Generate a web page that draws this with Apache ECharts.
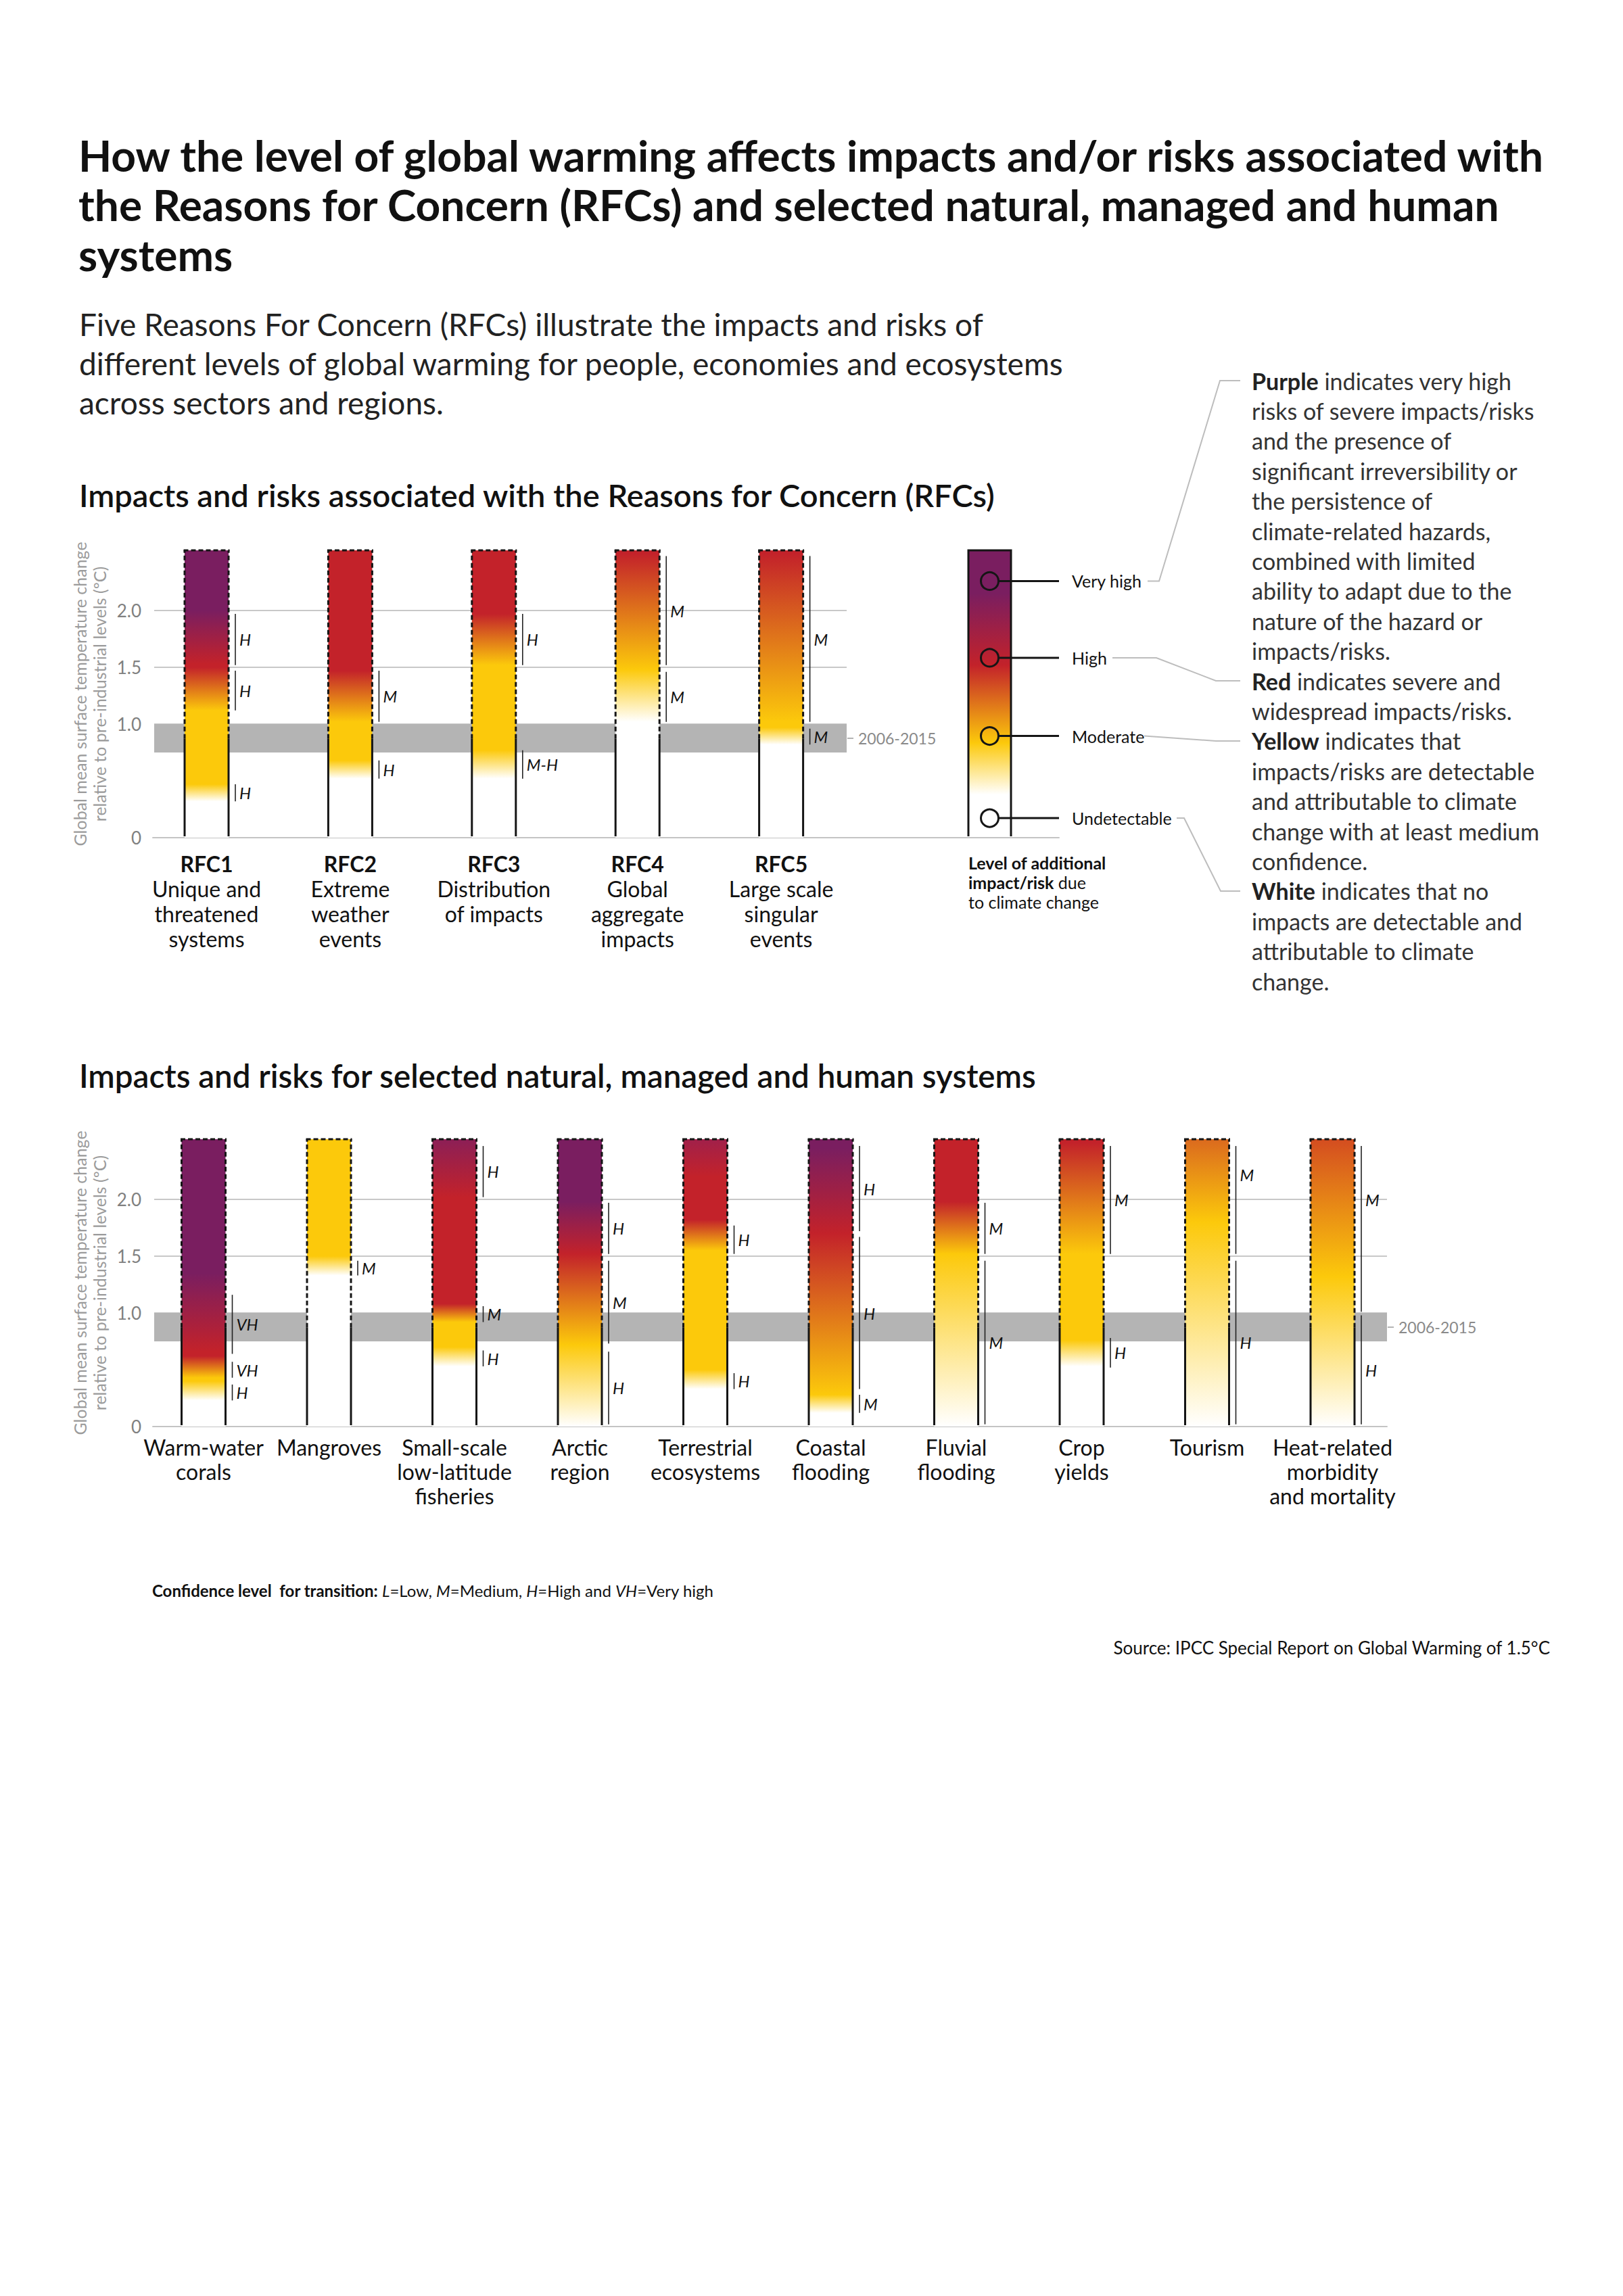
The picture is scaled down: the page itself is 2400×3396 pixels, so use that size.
<!DOCTYPE html>
<html>
<head>
<meta charset="utf-8">
<title>Reasons for Concern</title>
<script src="https://cdn.jsdelivr.net/npm/echarts@6.0.0/dist/echarts.min.js"></script>
<style>
html,body{margin:0;padding:0;background:#ffffff;}
#chart{width:2400px;height:3396px;}
</style>
</head>
<body>
<div id="chart"></div>
<script>
// ================= DATA =================
const titleLines = [
  'How the level of global warming affects impacts and/or risks associated with',
  'the Reasons for Concern (RFCs) and selected natural, managed and human',
  'systems'
];
const subtitleLines = [
  'Five Reasons For Concern (RFCs) illustrate the impacts and risks of',
  'different levels of global warming for people, economies and ecosystems',
  'across sectors and regions.'
];
const section1Title = 'Impacts and risks associated with the Reasons for Concern (RFCs)';
const section2Title = 'Impacts and risks for selected natural, managed and human systems';
const yAxisName = 'Global mean surface temperature change\nrelative to pre-industrial levels (\u00baC)';
const yTickLabels = [0, 1.0, 1.5, 2.0];
const gridValues = [1.0, 1.5, 2.0];
const recentBand = [0.75, 1.0];
const recentLabel = '2006-2015';
const presentLevel = 0.87;     // bar edges dashed above this level
const barTop = 2.53;

// Reasons for Concern
const rfcNames = ['RFC1', 'RFC2', 'RFC3', 'RFC4', 'RFC5'];
const rfcDesc = [
  'Unique and\nthreatened\nsystems',
  'Extreme\nweather\nevents',
  'Distribution\nof impacts',
  'Global\naggregate\nimpacts',
  'Large scale\nsingular\nevents'
];
// colour stops: [temperature, level]  W=undetectable Y=moderate R=high P=very high
const rfcStops = [
  [[0.32, 'W'], [0.47, 'Y'], [1.12, 'Y'], [1.50, 'R'], [1.53, 'R'], [2.00, 'P']],
  [[0.52, 'W'], [0.68, 'Y'], [1.02, 'Y'], [1.47, 'R']],
  [[0.52, 'W'], [0.77, 'Y'], [1.52, 'Y'], [1.97, 'R']],
  [[1.02, 'W'], [1.48, 'Y'], [2.50, 'R']],
  [[0.82, 'W'], [0.97, 'Y'], [1.02, 'Y'], [2.50, 'R']]
];
// confidence of transitions: [from, to, level, (label position)]
const rfcConf = [
  [[1.52, 1.97, 'H'], [1.12, 1.47, 'H'], [0.32, 0.47, 'H']],
  [[1.02, 1.47, 'M'], [0.52, 0.68, 'H']],
  [[1.52, 1.97, 'H'], [0.52, 0.77, 'M-H']],
  [[1.52, 2.48, 'M'], [1.02, 1.46, 'M']],
  [[1.02, 2.48, 'M'], [0.82, 0.96, 'M']]
];

// Selected natural, managed and human systems
const sysNames = [
  'Warm-water\ncorals', 'Mangroves', 'Small-scale\nlow-latitude\nfisheries', 'Arctic\nregion',
  'Terrestrial\necosystems', 'Coastal\nflooding', 'Fluvial\nflooding', 'Crop\nyields',
  'Tourism', 'Heat-related\nmorbidity\nand mortality'
];
const sysStops = [
  [[0.23, 'W'], [0.40, 'Y'], [0.43, 'Y'], [0.62, 'R'], [0.66, 'R'], [1.35, 'P']],
  [[1.33, 'W'], [1.50, 'Y']],
  [[0.53, 'W'], [0.70, 'Y'], [0.92, 'Y'], [1.08, 'R'], [2.02, 'R'], [2.53, '#8c1f56']],
  [[0.00, 'W'], [0.72, 'Y'], [1.52, 'R'], [1.98, 'P']],
  [[0.33, 'W'], [0.50, 'Y'], [1.55, 'Y'], [1.82, 'R'], [2.20, 'R'], [2.53, '#a1204a']],
  [[0.12, 'W'], [0.28, 'Y'], [1.70, 'R'], [2.45, 'P']],
  [[0.00, 'W'], [1.52, 'Y'], [1.98, 'R']],
  [[0.53, 'W'], [0.76, 'Y'], [1.52, 'Y'], [2.50, 'R']],
  [[0.00, 'W'], [1.80, 'Y'], [2.53, '#db6a1e']],
  [[0.00, 'W'], [1.32, 'Y'], [2.53, '#d44d20']]
];
const sysConf = [
  [[0.64, 1.16, 'VH'], [0.43, 0.57, 'VH'], [0.23, 0.37, 'H']],
  [[1.33, 1.46, 'M']],
  [[2.02, 2.47, 'H'], [0.92, 1.06, 'M'], [0.53, 0.67, 'H']],
  [[1.52, 1.97, 'H'], [0.73, 1.46, 'M'], [0.02, 0.66, 'H']],
  [[1.52, 1.77, 'H'], [0.33, 0.47, 'H']],
  [[1.72, 2.47, 'H'], [0.33, 1.67, 'H'], [0.12, 0.28, 'M']],
  [[1.52, 1.97, 'M'], [0.02, 1.46, 'M']],
  [[1.52, 2.47, 'M'], [0.52, 0.78, 'H']],
  [[1.52, 2.47, 'M', 2.22], [0.02, 1.46, 'H']],
  [[1.01, 2.47, 'M', 2.0], [0.02, 0.98, 'H']]
];

// Legend
const legendLevels = ['Very high', 'High', 'Moderate', 'Undetectable'];
const legendLevelPos = [0.107, 0.374, 0.646, 0.932];
const legendStops = [[0, 'P'], [0.15, 'P'], [0.40, 'R'], [0.67, 'Y'], [0.85, 'W'], [1, 'W']];
const legendCaption = '{b|Level of additional}\n{b|impact/risk}{n|\u00a0due}\n{n|to climate change}';
const descLines = [
  ['Purple', '\u00a0indicates very high'],
  ['', 'risks of severe impacts/risks'],
  ['', 'and the presence of'],
  ['', 'significant irreversibility or'],
  ['', 'the persistence of'],
  ['', 'climate-related hazards,'],
  ['', 'combined with limited'],
  ['', 'ability to adapt due to the'],
  ['', 'nature of the hazard or'],
  ['', 'impacts/risks.'],
  ['Red', '\u00a0indicates severe and'],
  ['', 'widespread impacts/risks.'],
  ['Yellow', '\u00a0indicates that'],
  ['', 'impacts/risks are detectable'],
  ['', 'and attributable to climate'],
  ['', 'change with at least medium'],
  ['', 'confidence.'],
  ['White', '\u00a0indicates that no'],
  ['', 'impacts are detectable and'],
  ['', 'attributable to climate'],
  ['', 'change.']
];
const confidenceNote = '{b|Confidence level\u00a0\u00a0for transition:\u00a0}{i|L}{n|=Low,\u00a0}{i|M}{n|=Medium,\u00a0}{i|H}{n|=High and\u00a0}{i|VH}{n|=Very high}';
const sourceNote = 'Source: IPCC Special Report on Global Warming of 1.5\u00b0C';

// ================= STYLE / LAYOUT =================
const FONT = 'Lato, "Noto Sans", "DejaVu Sans", sans-serif';
const PALETTE = { W: '#ffffff', Y: '#fcc90b', R: '#c3222a', P: '#7a1e60' };
const BAR_W = 65;
const CONF_OFF = 10;
const L1 = { left: 226, right: 1566, top: 814, bottom: 1239, c0: 305.5, step: 212.4, bandStart: 228, bandEnd: 1252 };
const L2 = { left: 226, right: 2051, top: 1685, bottom: 2110, c0: 301, step: 185.5, bandStart: 228, bandEnd: 2051 };

function xr(L) {
  return {
    min: (L.left - L.c0) / L.step, max: (L.right - L.c0) / L.step,
    bandStart: (L.bandStart - L.c0) / L.step, bandEnd: (L.bandEnd - L.c0) / L.step
  };
}
function hex2rgb(h) {
  h = h.replace('#', '');
  return [parseInt(h.substr(0, 2), 16), parseInt(h.substr(2, 2), 16), parseInt(h.substr(4, 2), 16)];
}
function resolve(c) { return PALETTE[c] || c; }
function mix(a, b, t) {
  const A = hex2rgb(a), B = hex2rgb(b);
  return 'rgb(' + A.map((v, k) => Math.round(v + (B[k] - v) * t)).join(',') + ')';
}
function colorAt(stops, v) {
  if (v <= stops[0][0]) return resolve(stops[0][1]);
  for (let k = 1; k < stops.length; k++) {
    if (v <= stops[k][0]) {
      const s0 = stops[k - 1], s1 = stops[k];
      const t = s1[0] === s0[0] ? 1 : (v - s0[0]) / (s1[0] - s0[0]);
      return mix(resolve(s0[1]), resolve(s1[1]), t);
    }
  }
  return resolve(stops[stops.length - 1][1]);
}
function barGradient(stops, top) {
  const pts = [[top, colorAt(stops, top)]];
  for (let k = stops.length - 1; k >= 0; k--) {
    const v = stops[k][0];
    if (v < top && v > 0) pts.push([v, resolve(stops[k][1])]);
  }
  pts.push([0, colorAt(stops, 0)]);
  return new echarts.graphic.LinearGradient(0, 0, 0, 1, pts.map(p => ({ offset: (top - p[0]) / top, color: p[1] })));
}

function xAx(gi, L) {
  const r = xr(L);
  return {
    gridIndex: gi, type: 'value', min: r.min, max: r.max,
    axisLine: { show: true, onZero: false, lineStyle: { color: '#c4c4c4', width: 2 } },
    axisTick: { show: false }, axisLabel: { show: false }, splitLine: { show: false }
  };
}
function yAx(gi) {
  return {
    gridIndex: gi, type: 'value', min: 0, max: barTop, interval: 0.5,
    axisLine: { show: false }, axisTick: { show: false }, splitLine: { show: false },
    axisLabel: {
      margin: 17, fontSize: 26, color: '#808080', fontFamily: FONT,
      formatter: function (v) {
        const t = yTickLabels.find(k => Math.abs(k - v) < 1e-6);
        return t === undefined ? '' : (t === 0 ? '0' : t.toFixed(1));
      }
    },
    name: yAxisName, nameLocation: 'middle', nameRotate: 90, nameGap: 51,
    nameTextStyle: { fontSize: 25, color: '#9b9b9b', lineHeight: 29, fontFamily: FONT }
  };
}
function gridLineSeries(gi, L) {
  const r = xr(L);
  return {
    type: 'custom', xAxisIndex: gi, yAxisIndex: gi, z: 1, silent: true, clip: false,
    data: gridValues.map(v => [r.bandStart, v, r.bandEnd]),
    renderItem: function (params, api) {
      const a = api.coord([api.value(0), api.value(1)]);
      const b = api.coord([api.value(2), api.value(1)]);
      return { type: 'line', shape: { x1: a[0], y1: a[1], x2: b[0], y2: b[1] }, style: { stroke: '#c8c8c8', lineWidth: 2 } };
    }
  };
}
function bandSeries(gi, L) {
  const r = xr(L);
  return {
    type: 'custom', xAxisIndex: gi, yAxisIndex: gi, z: 2, silent: true, clip: false,
    data: [[r.bandStart, recentBand[0], r.bandEnd, recentBand[1]]],
    renderItem: function (params, api) {
      const a = api.coord([api.value(0), api.value(3)]);
      const b = api.coord([api.value(2), api.value(1)]);
      const mid = (a[1] + b[1]) / 2;
      return {
        type: 'group', children: [
          { type: 'rect', shape: { x: a[0], y: a[1], width: b[0] - a[0], height: b[1] - a[1] }, style: { fill: '#b4b4b4' } },
          { type: 'line', shape: { x1: b[0] + 1, y1: mid, x2: b[0] + 10, y2: mid }, style: { stroke: '#b4b4b4', lineWidth: 2 } },
          { type: 'text', x: b[0] + 17, y: mid, style: { text: recentLabel, fontSize: 23, fontFamily: FONT, fill: '#8a8a8a', align: 'left', verticalAlign: 'middle' } }
        ]
      };
    }
  };
}
function barSeries(gi, labels, stopsArr, confArr, labelStyle) {
  return {
    type: 'custom', xAxisIndex: gi, yAxisIndex: gi, z: 5, silent: true, clip: false,
    data: labels.map((n, i) => [i, barTop]),
    renderItem: function (params, api) {
      const idx = params.dataIndex;
      const i = api.value(0), top = api.value(1);
      const pT = api.coord([i, top]);
      const p0 = api.coord([i, 0]);
      const pP = api.coord([i, presentLevel]);
      const x0 = pT[0] - BAR_W / 2, x1 = pT[0] + BAR_W / 2;
      const ch = [];
      ch.push({ type: 'rect', shape: { x: x0, y: pT[1], width: BAR_W, height: p0[1] - pT[1] }, style: { fill: barGradient(stopsArr[idx], top) } });
      [x0, x1].forEach(function (x) {
        ch.push({ type: 'line', shape: { x1: x, y1: p0[1] - 2, x2: x, y2: pP[1] }, style: { stroke: '#151515', lineWidth: 3 } });
        ch.push({ type: 'line', shape: { x1: x, y1: pP[1], x2: x, y2: pT[1] }, style: { stroke: '#151515', lineWidth: 3, lineDash: [7, 4] } });
      });
      ch.push({ type: 'line', shape: { x1: x0 - 1.5, y1: pT[1], x2: x1 + 1.5, y2: pT[1] }, style: { stroke: '#151515', lineWidth: 3, lineDash: [7, 4] } });
      confArr[idx].forEach(function (c) {
        const a = api.coord([i, c[0]]), b = api.coord([i, c[1]]);
        const lx = x1 + CONF_OFF;
        ch.push({ type: 'line', shape: { x1: lx, y1: a[1], x2: lx, y2: b[1] }, style: { stroke: '#222', lineWidth: 1.6 } });
        const m = api.coord([i, c[3] != null ? c[3] : (c[0] + c[1]) / 2]);
        ch.push({ type: 'text', x: lx + 6, y: m[1], style: { text: c[2], fontSize: 24, fontStyle: 'italic', fontFamily: FONT, fill: '#111', align: 'left', verticalAlign: 'middle' } });
      });
      ch.push({
        type: 'text', x: pT[0], y: p0[1] + labelStyle.gap,
        style: { text: labelStyle.text(idx), rich: labelStyle.rich, align: 'center', verticalAlign: 'top', fontFamily: FONT }
      });
      return { type: 'group', children: ch };
    }
  };
}

const richTop = {
  b: { fontSize: 32, fontWeight: 'bold', fontFamily: FONT, fill: '#111', lineHeight: 37 },
  n: { fontSize: 32, fontFamily: FONT, fill: '#111', lineHeight: 37 }
};
const richBottom = {
  n: { fontSize: 32, fontFamily: FONT, fill: '#111', lineHeight: 36 }
};

// ================= GRAPHIC (titles, legend, notes) =================
const graphics = [];
titleLines.forEach(function (t, k) {
  graphics.push({ type: 'text', x: 116, y: 229 + k * 73.5, style: { text: t, fontSize: 64, fontWeight: 'bold', fontFamily: FONT, fill: '#111', verticalAlign: 'middle' } });
});
subtitleLines.forEach(function (t, k) {
  graphics.push({ type: 'text', x: 117, y: 479 + k * 58, style: { text: t, fontSize: 46, fontFamily: FONT, fill: '#222', verticalAlign: 'middle' } });
});
graphics.push({ type: 'text', x: 117, y: 732, style: { text: section1Title, fontSize: 47, fontWeight: 600, fontFamily: FONT, fill: '#111', verticalAlign: 'middle' } });
graphics.push({ type: 'text', x: 117, y: 1590, style: { text: section2Title, fontSize: 47.5, fontWeight: 600, fontFamily: FONT, fill: '#111', verticalAlign: 'middle' } });

// legend bar
const LG = { x: 1432, w: 63, top: L1.top, bottom: L1.bottom };
const legendGrad = new echarts.graphic.LinearGradient(0, 0, 0, 1, legendStops.map(s => ({ offset: s[0], color: resolve(s[1]) })));
graphics.push({ type: 'rect', shape: { x: LG.x, y: LG.top, width: LG.w, height: LG.bottom - LG.top }, style: { fill: legendGrad } });
graphics.push({ type: 'polyline', shape: { points: [[LG.x, LG.bottom - 2], [LG.x, LG.top], [LG.x + LG.w, LG.top], [LG.x + LG.w, LG.bottom - 2]] }, style: { stroke: '#151515', lineWidth: 3, fill: null } });
const LGcx = LG.x + LG.w / 2;
legendLevels.forEach(function (name, k) {
  const cy = LG.top + legendLevelPos[k] * (LG.bottom - LG.top);
  graphics.push({ type: 'line', shape: { x1: LGcx + 13, y1: cy, x2: 1566, y2: cy }, style: { stroke: '#151515', lineWidth: 3 } });
  graphics.push({ type: 'circle', shape: { cx: LGcx, cy: cy, r: 13 }, style: { fill: null, stroke: '#151515', lineWidth: 3 } });
  graphics.push({ type: 'text', x: 1585, y: cy, style: { text: name, fontSize: 25, fontFamily: FONT, fill: '#111', verticalAlign: 'middle' } });
});
graphics.push({
  type: 'text', x: 1432, y: 1261,
  style: {
    text: legendCaption, verticalAlign: 'top', fontFamily: FONT,
    rich: {
      b: { fontSize: 25, fontWeight: 'bold', fontFamily: FONT, fill: '#111', lineHeight: 29 },
      n: { fontSize: 25, fontFamily: FONT, fill: '#111', lineHeight: 29 }
    }
  }
});
// leader lines to the description
const leaders = [
  [[1697, 859.5], [1714, 859.5], [1804, 563], [1834, 563]],
  [[1645, 973], [1710, 973], [1798, 1007], [1834, 1007]],
  [[1692, 1088.5], [1798, 1096], [1834, 1096]],
  [[1740, 1210], [1751, 1210], [1805, 1318], [1834, 1318]]
];
leaders.forEach(function (pts) {
  graphics.push({ type: 'polyline', shape: { points: pts }, style: { stroke: '#bdbdbd', lineWidth: 2, fill: null } });
});
descLines.forEach(function (ln, k) {
  const txt = (ln[0] ? '{b|' + ln[0] + '}' : '') + '{n|' + ln[1] + '}';
  graphics.push({
    type: 'text', x: 1851, y: 563 + k * 44.4,
    style: {
      text: txt, verticalAlign: 'middle', fontFamily: FONT,
      rich: {
        b: { fontSize: 34, fontWeight: 'bold', fontFamily: FONT, fill: '#222' },
        n: { fontSize: 34, fontFamily: FONT, fill: '#333' }
      }
    }
  });
});
graphics.push({
  type: 'text', x: 225, y: 2352,
  style: {
    text: confidenceNote, verticalAlign: 'middle', fontFamily: FONT,
    rich: {
      b: { fontSize: 24, fontWeight: 'bold', fontFamily: FONT, fill: '#111' },
      i: { fontSize: 24, fontStyle: 'italic', fontFamily: FONT, fill: '#111' },
      n: { fontSize: 24, fontFamily: FONT, fill: '#111' }
    }
  }
});
graphics.push({ type: 'text', x: 2292, y: 2437, style: { text: sourceNote, fontSize: 26, fontFamily: FONT, fill: '#111', align: 'right', verticalAlign: 'middle' } });

// ================= OPTION =================
const option = {
  backgroundColor: '#ffffff',
  animation: false,
  grid: [
    { left: L1.left, top: L1.top, width: L1.right - L1.left, height: L1.bottom - L1.top },
    { left: L2.left, top: L2.top, width: L2.right - L2.left, height: L2.bottom - L2.top }
  ],
  xAxis: [xAx(0, L1), xAx(1, L2)],
  yAxis: [yAx(0), yAx(1)],
  graphic: graphics,
  series: [
    gridLineSeries(0, L1), bandSeries(0, L1),
    barSeries(0, rfcNames, rfcStops, rfcConf, {
      gap: 20, rich: richTop,
      text: function (i) { return '{b|' + rfcNames[i] + '}\n' + rfcDesc[i].split('\n').map(s => '{n|' + s + '}').join('\n'); }
    }),
    gridLineSeries(1, L2), bandSeries(1, L2),
    barSeries(1, sysNames, sysStops, sysConf, {
      gap: 12, rich: richBottom,
      text: function (i) { return sysNames[i].split('\n').map(s => '{n|' + s + '}').join('\n'); }
    })
  ]
};
const chart = echarts.init(document.getElementById('chart'), null, { renderer: 'svg', width: 2400, height: 3396 });
chart.setOption(option);
</script>
</body>
</html>
